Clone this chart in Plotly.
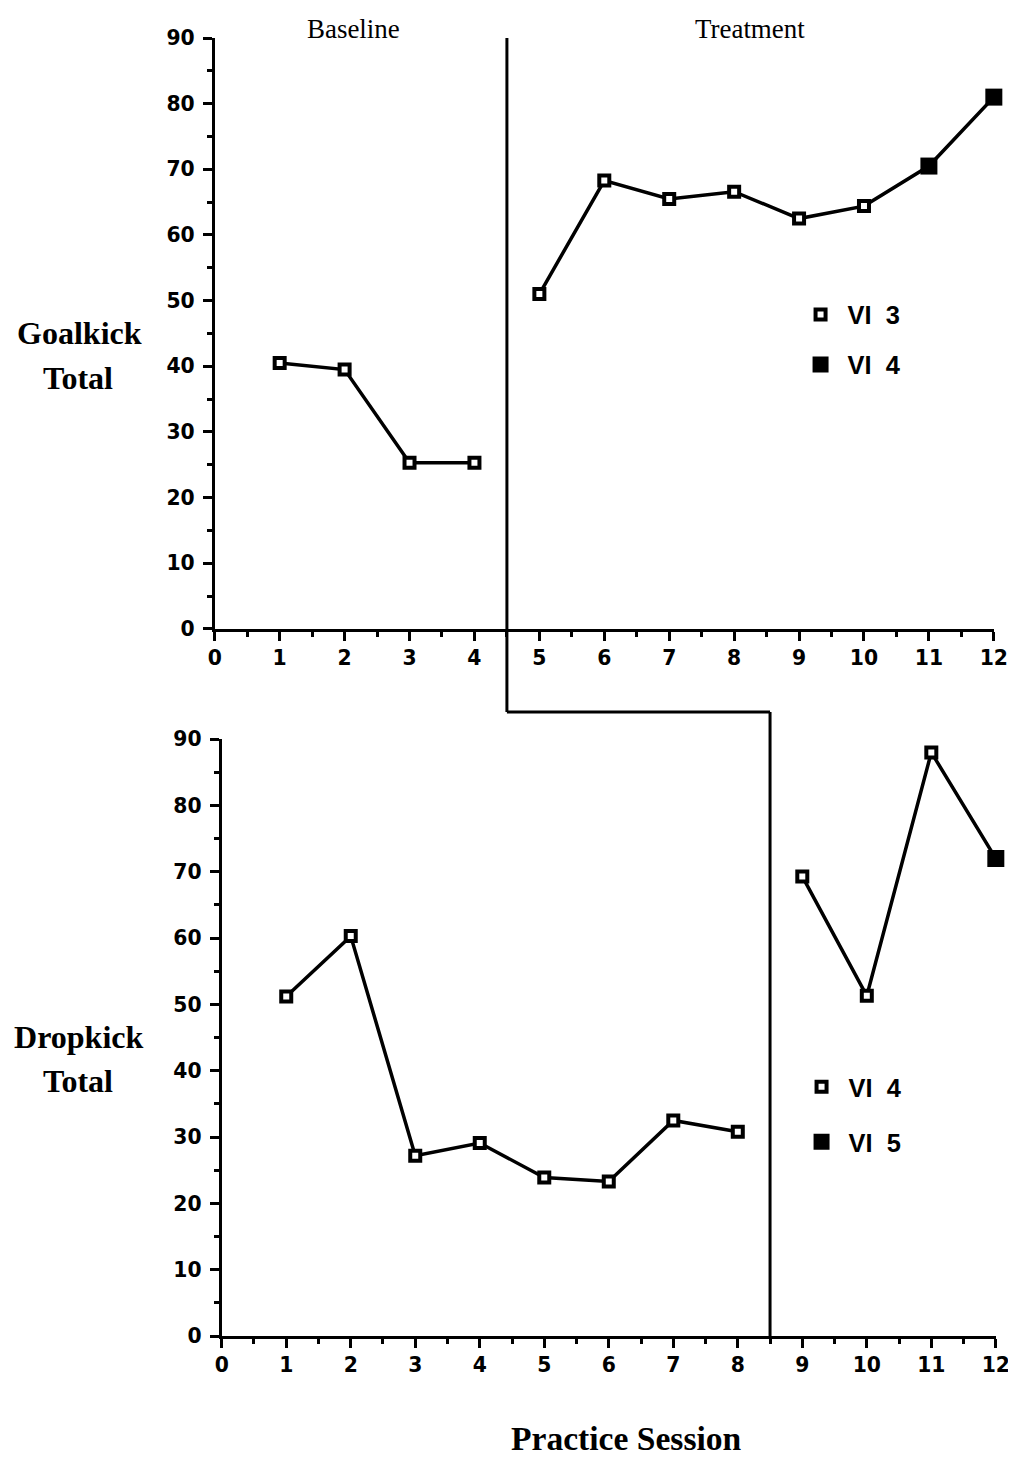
import plotly.graph_objects as go

# ---------------- data ----------------
goal_base_x = [1, 2, 3, 4]
goal_base_y = [40.5, 39.5, 25.3, 25.3]
goal_treat_x = [5, 6, 7, 8, 9, 10, 11, 12]
goal_treat_y = [51.0, 68.3, 65.5, 66.6, 62.5, 64.4, 70.5, 81.0]
goal_treat_filled = [False, False, False, False, False, False, True, True]

drop_base_x = [1, 2, 3, 4, 5, 6, 7, 8]
drop_base_y = [51.2, 60.3, 27.2, 29.1, 23.9, 23.3, 32.5, 30.8]
drop_treat_x = [9, 10, 11, 12]
drop_treat_y = [69.3, 51.3, 88.0, 72.0]
drop_treat_filled = [False, False, False, True]

x_ticks = list(range(0, 13))
y_ticks = list(range(0, 91, 10))
phase_top = 4.5
phase_bottom = 8.5

legend_top = ["\u00a0VI\u00a0\u00a03", "\u00a0VI\u00a0\u00a04"]
legend_bottom = ["\u00a0VI\u00a0\u00a04", "\u00a0VI\u00a0\u00a05"]

# ---------------- layout helpers ----------------
W, H = 1016, 1457
SX, SY = 0.983, 0.982   # page-to-photo scale observed
OX, OY = 12.5, 20.0     # page offset observed


def px(X):  # target picture x -> paper fraction
    return ((X - OX) / SX) / W


def py(Y):  # target picture y -> paper fraction
    return 1 - ((Y - OY) / SY) / H


def fs(size):
    return size / SX


BLACK = "#000000"
SANS = "Liberation Sans, Arial, sans-serif"
TICKSANS = "DejaVu Sans, Verdana, sans-serif"
SERIF = "Liberation Serif, Times New Roman, serif"
TICK_FONT = dict(family=TICKSANS, size=fs(20), color=BLACK, weight="bold")

OPEN_SIZE, OPEN_LW = 10, 4
FILLED_SIZE = 17

top_xdom = [px(213), px(995)]
top_ydom = [py(628), py(38)]
bot_xdom = [px(220), px(997)]
bot_ydom = [py(1334), py(738)]
gap_y = py(711)


def marker_style(filled):
    return dict(
        symbol="square", opacity=1,
        size=[FILLED_SIZE if f else OPEN_SIZE for f in filled],
        color=[BLACK if f else "white" for f in filled],
        line=dict(color=BLACK, width=[0 if f else OPEN_LW for f in filled]),
    )


fig = go.Figure()
line_style = dict(color=BLACK, width=3.5)

for xs, ys, filled, xa, ya in [
    (goal_base_x, goal_base_y, [False] * len(goal_base_x), "x", "y"),
    (goal_treat_x, goal_treat_y, goal_treat_filled, "x", "y"),
    (drop_base_x, drop_base_y, [False] * len(drop_base_x), "x2", "y2"),
    (drop_treat_x, drop_treat_y, drop_treat_filled, "x2", "y2"),
]:
    fig.add_trace(go.Scatter(x=xs, y=ys, mode="lines+markers", line=line_style,
                             marker=marker_style(filled), xaxis=xa, yaxis=ya,
                             showlegend=False, cliponaxis=False))


def legend_marker(filled):
    return dict(symbol="square", opacity=1, size=FILLED_SIZE if filled else OPEN_SIZE,
                color=BLACK if filled else "white",
                line=dict(color=BLACK, width=0 if filled else OPEN_LW))


for i, (name, filled) in enumerate(zip(legend_top, [False, True])):
    fig.add_trace(go.Scatter(x=[None], y=[None], mode="markers", name=name, legend="legend",
                             legendgroup=f"t{i}", marker=legend_marker(filled),
                             xaxis="x", yaxis="y"))
for i, (name, filled) in enumerate(zip(legend_bottom, [False, True])):
    fig.add_trace(go.Scatter(x=[None], y=[None], mode="markers", name=name, legend="legend2",
                             legendgroup=f"b{i}", marker=legend_marker(filled),
                             xaxis="x2", yaxis="y2"))

axis_common = dict(
    showline=True, linecolor=BLACK, linewidth=3,
    ticks="outside", ticklen=9, tickwidth=3, tickcolor=BLACK,
    showgrid=False, zeroline=False, tickfont=TICK_FONT,
)
minor_x = dict(dtick=0.5, ticklen=5, tickwidth=3, ticks="outside", tickcolor=BLACK)
minor_y = dict(dtick=5, ticklen=5, tickwidth=3, ticks="outside", tickcolor=BLACK)
LEG_FONT = dict(family=SANS, size=fs(25), color=BLACK, weight="bold")

fig.update_layout(
    width=W, height=H,
    margin=dict(l=0, r=0, t=0, b=0),
    paper_bgcolor="white", plot_bgcolor="white",
    xaxis=dict(domain=top_xdom, anchor="y", range=[0, 12], tickvals=x_ticks, minor=minor_x, **axis_common),
    yaxis=dict(domain=top_ydom, anchor="x", range=[0, 90], tickvals=y_ticks, minor=minor_y,
               ticklabelstandoff=4, **axis_common),
    xaxis2=dict(domain=bot_xdom, anchor="y2", range=[0, 12], tickvals=x_ticks, minor=minor_x, **axis_common),
    yaxis2=dict(domain=bot_ydom, anchor="x2", range=[0, 90], tickvals=y_ticks, minor=minor_y,
                ticklabelstandoff=4, **axis_common),
    legend=dict(x=px(801), y=py(291), xanchor="left", yanchor="top", font=LEG_FONT,
                bgcolor="rgba(0,0,0,0)", tracegroupgap=14, itemclick=False),
    legend2=dict(x=px(802), y=py(1062), xanchor="left", yanchor="top", font=LEG_FONT,
                 bgcolor="rgba(0,0,0,0)", tracegroupgap=19, itemclick=False),
    showlegend=True,
)

# phase-change line
p_top = top_xdom[0] + phase_top / 12 * (top_xdom[1] - top_xdom[0])
p_bot = bot_xdom[0] + phase_bottom / 12 * (bot_xdom[1] - bot_xdom[0])
phase_line = dict(color=BLACK, width=3)
fig.add_shape(type="line", xref="x", yref="paper", x0=phase_top, x1=phase_top,
              y0=gap_y, y1=top_ydom[1], line=phase_line)
fig.add_shape(type="line", xref="paper", yref="paper", x0=p_top, x1=p_bot,
              y0=gap_y, y1=gap_y, line=phase_line)
fig.add_shape(type="line", xref="x2", yref="paper", x0=phase_bottom, x1=phase_bottom,
              y0=bot_ydom[0], y1=gap_y, line=phase_line)


def ann(text, x, y, size, bold=False, ypaper=None):
    fig.add_annotation(text=f"<b>{text}</b>" if bold else text, xref="paper", yref="paper",
                       x=px(x), y=py(y) if ypaper is None else ypaper, showarrow=False,
                       xanchor="center", yanchor="middle",
                       font=dict(family=SERIF, size=fs(size), color=BLACK))


top_label_y = 1 - 9 / H
ann("Baseline", 352, 19, 26.5, ypaper=top_label_y)
ann("Treatment", 750, 19, 26.5, ypaper=top_label_y)
ann("Goalkick", 77, 333, 31.5, bold=True)
ann("Total", 76, 377, 31.5, bold=True)
ann("Dropkick", 77, 1035, 31.5, bold=True)
ann("Total", 76, 1079, 31.5, bold=True)
ann("Practice Session", 626, 1436, 33, bold=True)

fig.write_html("out.html")
